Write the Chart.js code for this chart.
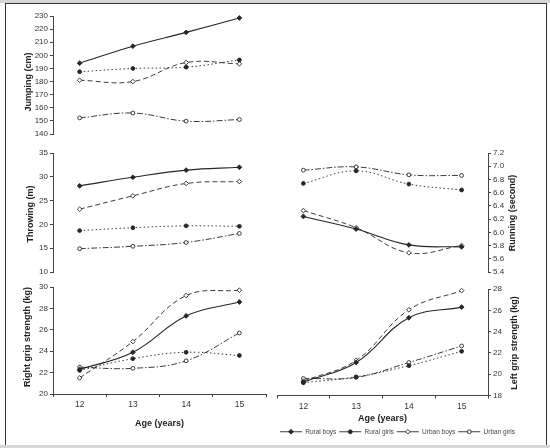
<!DOCTYPE html>
<html>
<head>
<meta charset="utf-8">
<script src="https://cdn.jsdelivr.net/npm/chart.js@4.4.1/dist/chart.umd.min.js"></script>
<style>
  html, body { margin: 0; padding: 0; background: #ffffff; }
  body { width: 550px; height: 448px; position: relative; overflow: hidden; }
  .strip { position: absolute; left: 0; width: 550px; height: 3px; background: #d6d6d6; }
  #frame { position: absolute; left: 5px; top: 3px; width: 542px; height: 445px;
           border: 1px solid #333; border-bottom: none; box-sizing: border-box; }
  canvas { position: absolute; }
</style>
</head>
<body>
<div class="strip" style="top:0"></div>
<div id="frame"></div>
<div class="strip" style="top:445px"></div>

<canvas id="jumpChart" width="275" height="145" style="left:0;top:0"></canvas>
<canvas id="throwChart" width="275" height="145" style="left:0;top:140px"></canvas>
<canvas id="runChart" width="300" height="145" style="left:270px;top:140px"></canvas>
<canvas id="rightGripChart" width="275" height="173" style="left:0;top:275px"></canvas>
<canvas id="leftGripChart" width="300" height="173" style="left:270px;top:275px"></canvas>

<script>
// Datos
const ages = ["12", "13", "14", "15"];
const groupNames = ["Rural boys", "Rural girls", "Urban boys", "Urban girls"];

// Jumping (cm)
const jumpRuralBoys = [194, 207, 217.5, 228.5];
const jumpRuralGirls = [187.5, 190, 191, 196.5];
const jumpUrbanBoys = [181, 180, 194.5, 193.5];
const jumpUrbanGirls = [152.3, 156, 149.8, 151];

// Throwing (m)
const throwRuralBoys = [28.1, 29.9, 31.4, 32.0];
const throwRuralGirls = [18.7, 19.3, 19.7, 19.6];
const throwUrbanBoys = [23.2, 26.0, 28.6, 29.0];
const throwUrbanGirls = [14.9, 15.4, 16.2, 18.1];

// Running (second)
const runRuralBoys = [6.24, 6.05, 5.81, 5.78];
const runRuralGirls = [6.74, 6.93, 6.73, 6.64];
const runUrbanBoys = [6.33, 6.07, 5.69, 5.8];
const runUrbanGirls = [6.94, 6.99, 6.87, 6.86];

// Right grip strength (kg)
const rightRuralBoys = [22.3, 23.9, 27.3, 28.6];
const rightRuralGirls = [22.2, 23.3, 23.9, 23.6];
const rightUrbanBoys = [21.5, 24.9, 29.2, 29.7];
const rightUrbanGirls = [22.5, 22.4, 23.1, 25.7];

// Left grip strength (kg)
const leftRuralBoys = [19.25, 21.1, 25.3, 26.3];
const leftRuralGirls = [19.2, 19.75, 20.8, 22.15];
const leftUrbanBoys = [19.35, 21.3, 26.05, 27.85];
const leftUrbanGirls = [19.6, 19.7, 21.1, 22.65];

const FONT = '"Liberation Sans", Arial, sans-serif';
const INK = "#262626";
const AXIS = "#444";
const LEGEND_LINE = 22;

// Estilo de cada grupo (línea y marcador)
const groupStyles = [
  { dash: [], width: 1.1, point: "rectRot", radius: 2.4, fill: INK },
  { dash: [1.5, 2.5], width: 0.9, point: "circle", radius: 1.9, fill: INK },
  { dash: [5, 3], width: 0.9, point: "rectRot", radius: 2.3, fill: "#ffffff" },
  { dash: [6, 2, 1.5, 2], width: 0.9, point: "circle", radius: 1.9, fill: "#ffffff" },
];

function buildDatasets(seriesList) {
  return seriesList.map((values, i) => {
    const st = groupStyles[i];
    return {
      label: groupNames[i],
      data: values,
      borderColor: INK,
      borderWidth: st.width,
      borderDash: st.dash,
      pointStyle: st.point,
      pointRadius: st.radius,
      pointBorderWidth: 0.9,
      pointBorderColor: INK,
      pointBackgroundColor: st.fill,
      tension: 0.4,
      fill: false,
      clip: false,
    };
  });
}

// Título vertical del eje (girado -90)
const sideTitlePlugin = {
  id: "sideTitle",
  afterDraw(chart, args, opts) {
    if (!opts || !opts.text) return;
    const ctx = chart.ctx;
    ctx.save();
    ctx.translate(opts.x, opts.y);
    ctx.rotate(-Math.PI / 2);
    ctx.font = "bold 9px " + FONT;
    ctx.fillStyle = "#222";
    ctx.textAlign = "center";
    ctx.textBaseline = "middle";
    ctx.fillText(opts.text, 0, 0);
    ctx.restore();
  },
};

// Marcadores encima de las líneas de la leyenda
const legendMarkerPlugin = {
  id: "legendMarkers",
  afterDraw(chart, args, opts) {
    const legend = chart.legend;
    if (!opts || !opts.enabled || !legend || !legend.legendHitBoxes) return;
    const ctx = chart.ctx;
    legend.legendHitBoxes.forEach((box, i) => {
      const st = groupStyles[i];
      ctx.save();
      ctx.setLineDash([]);
      ctx.fillStyle = st.fill;
      ctx.strokeStyle = INK;
      ctx.lineWidth = 0.9;
      Chart.helpers.drawPoint(
        ctx,
        { pointStyle: st.point, radius: st.radius, borderWidth: 0.9, rotation: 0 },
        box.left + LEGEND_LINE / 2,
        box.top + box.height / 2
      );
      ctx.restore();
    });
  },
};

function createPanel(id, cfg) {
  const ctx = document.getElementById(id).getContext("2d");
  return new Chart(ctx, {
    type: "line",
    data: { labels: ages, datasets: buildDatasets(cfg.series) },
    plugins: [sideTitlePlugin, legendMarkerPlugin],
    options: {
      responsive: false,
      animation: false,
      devicePixelRatio: 1,
      layout: { padding: cfg.padding },
      scales: {
        x: {
          display: cfg.showX,
          offset: true,
          grid: {
            offset: true,
            drawOnChartArea: false,
            tickLength: 3,
            color: AXIS,
          },
          border: { display: true, color: AXIS, width: 1 },
          ticks: {
            color: "#333",
            padding: 3,
            maxRotation: 0,
            autoSkip: false,
            font: { family: FONT, size: 8.5 },
          },
          title: {
            display: cfg.showX,
            text: "Age (years)",
            color: "#222",
            font: { family: FONT, size: 9, weight: "bold" },
            padding: { top: 0, bottom: cfg.titlePadBottom || 0 },
          },
          afterFit: (scale) => {
            if (cfg.showX) scale.height = cfg.xHeight;
          },
        },
        y: {
          position: cfg.yPos,
          min: cfg.yMin,
          max: cfg.yMax,
          grid: {
            drawOnChartArea: false,
            tickLength: 3,
            color: AXIS,
          },
          border: { display: true, color: AXIS, width: 1 },
          ticks: {
            stepSize: cfg.yStep,
            autoSkip: false,
            color: "#333",
            padding: 2,
            font: { family: FONT, size: 8 },
            callback: (v) => Number(v).toFixed(cfg.decimals || 0),
          },
          afterFit: (scale) => {
            scale.width = cfg.yWidth;
          },
        },
      },
      plugins: {
        legend: {
          display: !!cfg.legend,
          position: "bottom",
          align: "start",
          labels: {
            usePointStyle: true,
            pointStyle: "line",
            pointStyleWidth: LEGEND_LINE,
            boxHeight: 6,
            padding: 3,
            color: "#444",
            font: { family: FONT, size: 6.5 },
          },
        },
        tooltip: { enabled: false },
        sideTitle: cfg.sideTitle,
        legendMarkers: { enabled: !!cfg.legend },
      },
    },
  });
}

document.addEventListener("DOMContentLoaded", function () {
  createPanel("jumpChart", {
    series: [jumpRuralBoys, jumpRuralGirls, jumpUrbanBoys, jumpUrbanGirls],
    yMin: 140, yMax: 230, yStep: 10, yPos: "left", yWidth: 53,
    showX: false,
    padding: { top: 16, bottom: 11, left: 0, right: 9 },
    sideTitle: { text: "Jumping (cm)", x: 29, y: 82 },
  });

  createPanel("throwChart", {
    series: [throwRuralBoys, throwRuralGirls, throwUrbanBoys, throwUrbanGirls],
    yMin: 10, yMax: 35, yStep: 5, yPos: "left", yWidth: 53,
    showX: false,
    padding: { top: 13, bottom: 13, left: 0, right: 9 },
    sideTitle: { text: "Throwing (m)", x: 31, y: 74 },
  });

  createPanel("runChart", {
    series: [runRuralBoys, runRuralGirls, runUrbanBoys, runUrbanGirls],
    yMin: 5.4, yMax: 7.2, yStep: 0.2, decimals: 1, yPos: "right", yWidth: 82,
    showX: false,
    padding: { top: 13, bottom: 13, left: 7, right: 0 },
    sideTitle: { text: "Running (second)", x: 243, y: 73 },
  });

  createPanel("rightGripChart", {
    series: [rightRuralBoys, rightRuralGirls, rightUrbanBoys, rightUrbanGirls],
    yMin: 20, yMax: 30, yStep: 2, yPos: "left", yWidth: 53,
    showX: true, xHeight: 44, titlePadBottom: 9,
    padding: { top: 12, bottom: 10, left: 0, right: 9 },
    sideTitle: { text: "Right grip strength (kg)", x: 28, y: 62 },
  });

  createPanel("leftGripChart", {
    series: [leftRuralBoys, leftRuralGirls, leftUrbanBoys, leftUrbanGirls],
    yMin: 18, yMax: 28, yStep: 2, yPos: "right", yWidth: 82,
    showX: true, xHeight: 30, titlePadBottom: 2,
    legend: true,
    padding: { top: 14, bottom: 3, left: 7, right: 0 },
    sideTitle: { text: "Left grip strength (kg)", x: 245, y: 68 },
  });
});
</script>
</body>
</html>
